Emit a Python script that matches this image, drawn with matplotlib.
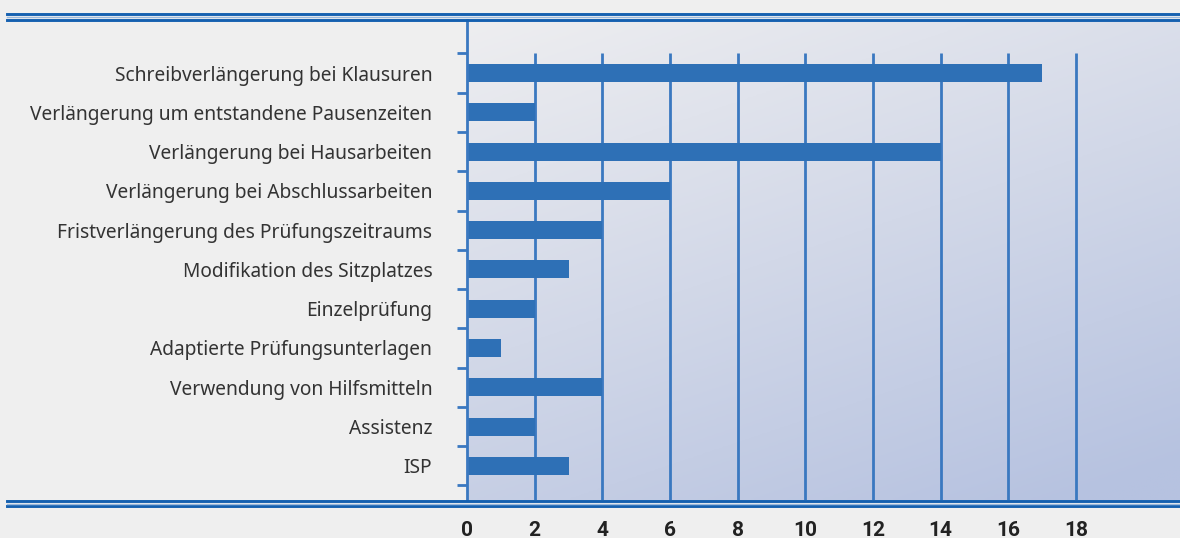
import matplotlib
matplotlib.use("Agg")
import matplotlib.pyplot as plt
import numpy as np
from matplotlib.lines import Line2D

categories = [
    "Schreibverlängerung bei Klausuren",
    "Verlängerung um entstandene Pausenzeiten",
    "Verlängerung bei Hausarbeiten",
    "Verlängerung bei Abschlussarbeiten",
    "Fristverlängerung des Prüfungszeitraums",
    "Modifikation des Sitzplatzes",
    "Einzelprüfung",
    "Adaptierte Prüfungsunterlagen",
    "Verwendung von Hilfsmitteln",
    "Assistenz",
    "ISP",
]
values = [17, 2, 14, 6, 4, 3, 2, 1, 4, 2, 3]
x_ticks = [0, 2, 4, 6, 8, 10, 12, 14, 16, 18]

W, H = 1180, 538
fig = plt.figure(figsize=(W / 100, H / 100), dpi=100)
fig.patch.set_facecolor("#efefef")

left, right, top, bottom = 467, 1180, 20, 500
ax = fig.add_axes([left / W, (H - bottom) / H, (right - left) / W, (bottom - top) / H])
ax.set_facecolor("#efefef")

blue = "#2e70b6"
grid_blue = "#3a78c0"

y = np.arange(len(categories))
xmax = (right - left) / ((1076 - 467) / 18)
ybot, ytop = len(categories) - 1 + 0.87, -1.35
ax.set_xlim(0, xmax)
ax.set_ylim(ybot, ytop)

# diagonal gradient background
gx, gy = np.meshgrid(np.linspace(0, 1, 300), np.linspace(0, 1, 150))
t = np.clip(0.35 * gx + 0.7 * gy, 0, 1)
c0 = np.array([0xee, 0xee, 0xf0]) / 255
c1 = np.array([0xb6, 0xc2, 0xe0]) / 255
img = c0[None, None, :] * (1 - t[..., None]) + c1[None, None, :] * t[..., None]
ax.imshow(img, extent=[0, xmax, ybot, ytop], aspect="auto", zorder=0, origin="upper")

ax.vlines(x_ticks[1:], -0.5, ybot, color=grid_blue, lw=2, zorder=1)
ax.barh(y, values, height=0.46, color=blue, zorder=2)

ax.set_yticks(y)
ax.set_yticklabels(categories, fontsize=13.8, color="#333333", fontfamily="Noto Sans")
ax.set_yticks(np.arange(-0.5, len(categories)), minor=True)
ax.tick_params(axis="y", which="major", length=0, pad=25)
ax.tick_params(axis="y", which="minor", length=7, width=2, color=grid_blue)

ax.set_xticks(x_ticks)
ax.set_xticklabels([str(v) for v in x_ticks], fontsize=15, fontweight="bold",
                   color="#222222", fontfamily="Roboto")
ax.tick_params(axis="x", length=0, pad=15)

for s in ["top", "right", "bottom"]:
    ax.spines[s].set_visible(False)
ax.spines["left"].set_color(grid_blue)
ax.spines["left"].set_linewidth(2)
ax.spines["left"].set_zorder(3)

# double rules top and bottom
line_dark = "#1560b0"
for yy in [14, 19.7, 501, 506]:
    fy = (H - yy) / H
    fig.add_artist(Line2D([7 / W, 1], [fy, fy], color=line_dark, lw=2.1))
for yy in [16.8, 503.5]:
    fy = (H - yy) / H
    fig.add_artist(Line2D([7 / W, 1], [fy, fy], color="#9ab8dc", lw=1.0))

fig.savefig("out.png", dpi=100, facecolor=fig.get_facecolor())
